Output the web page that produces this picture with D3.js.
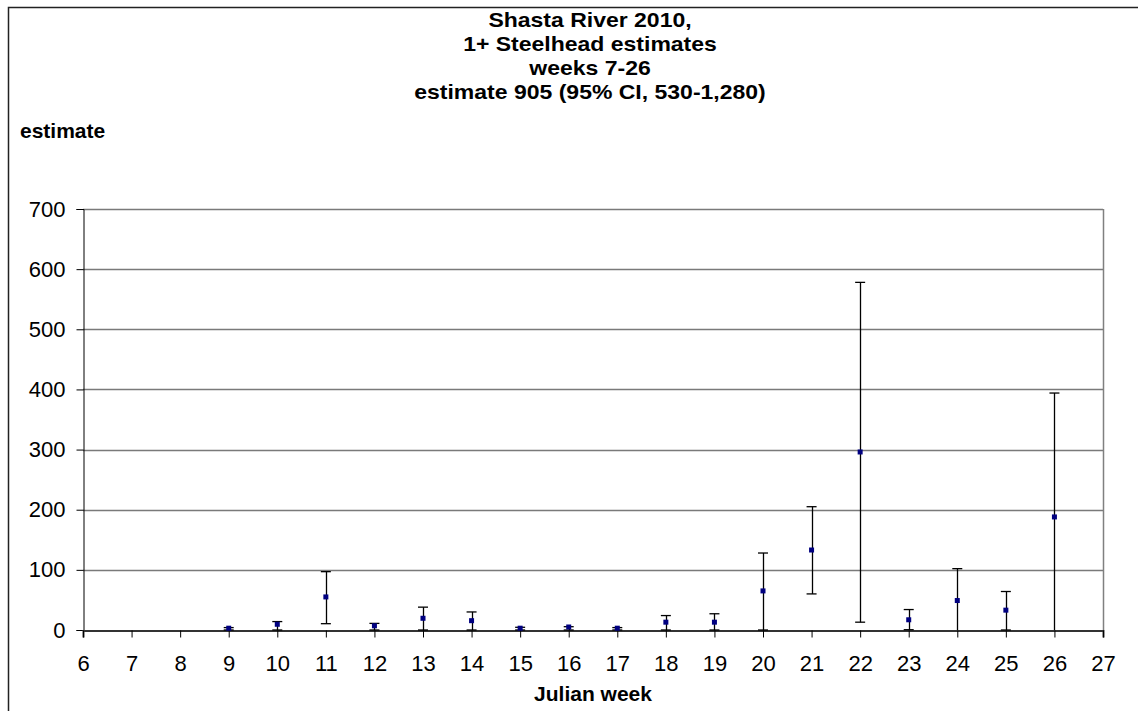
<!DOCTYPE html>
<html>
<head>
<meta charset="utf-8">
<script src="https://cdn.jsdelivr.net/npm/d3@7"></script>
<style>
  html, body { margin: 0; padding: 0; background: #fff; }
  svg { display: block; }
  text { font-family: "Liberation Sans", Arial, sans-serif; fill: #000; }
</style>
</head>
<body>
<svg id="chart" width="1138" height="711"></svg>
<script>
// ---- data ----
const titleLines = ["Shasta River 2010,", "1+ Steelhead estimates", "weeks 7-26", "estimate 905 (95% CI, 530-1,280)"];
const yTitle = "estimate";
const xTitle = "Julian week";
const weeks     = [9, 10, 11, 12, 13, 14, 15, 16, 17, 18, 19, 20, 21, 22, 23, 24, 25, 26];
const estimates = [3, 9.5, 55, 7, 19.5, 15.5, 3, 5, 3, 13, 13, 65, 133, 296, 17, 49, 33, 188];
const upperCI   = [4, 14, 97, 11, 38, 30, 4.5, 5.5, 4, 24, 27, 128, 205, 578, 34, 102, 64, 394];
const lowerCI   = [0, 0, 10.5, 0, 0, 0, 0, 0, 0, 0, 0, 0, 60, 13, 0.5, -20, 0, -20];
const xTicks = d3.range(6, 28);
const yTicks = [0, 100, 200, 300, 400, 500, 600, 700];

// ---- layout ----
const svg = d3.select("#chart");
const plot = { left: 83, right: 1103, top: 209, bottom: 630 };
const x = d3.scaleLinear().domain([6, 27]).range([plot.left, plot.right]);
const y = d3.scaleLinear().domain([0, 700]).range([plot.bottom, plot.top]);
const FONT = "Liberation Sans, Arial, sans-serif";

// outer chart border (top and left visible)
svg.append("path")
  .attr("d", `M8.5,711 L8.5,7.5 L1138,7.5`)
  .attr("fill", "none").attr("stroke", "#222").attr("stroke-width", 1.5);

// gridlines
svg.append("g").selectAll("line").data(yTicks.filter(d => d > 0)).join("line")
  .attr("x1", plot.left).attr("x2", plot.right)
  .attr("y1", d => Math.round(y(d)) + 0.5).attr("y2", d => Math.round(y(d)) + 0.5)
  .attr("stroke", "#7a7a7a").attr("stroke-width", 1.5);
// plot area right border
svg.append("line")
  .attr("x1", plot.right + 0.5).attr("x2", plot.right + 0.5)
  .attr("y1", plot.top).attr("y2", plot.bottom)
  .attr("stroke", "#808080").attr("stroke-width", 1.5);

// y axis
const yAxis = d3.axisLeft(y).tickValues(yTicks).tickSize(7).tickPadding(11).tickFormat(d3.format("d"));
const gy = svg.append("g").attr("transform", `translate(${plot.left + 0.5},0)`).call(yAxis);
gy.select(".domain").attr("stroke", "#000").attr("stroke-width", 1);
gy.selectAll(".tick line").attr("stroke", "#000");
gy.selectAll(".tick text").attr("font-size", 22).attr("font-family", FONT);

// x axis
const xAxis = d3.axisBottom(x).tickValues(xTicks).tickSize(7).tickPadding(18).tickFormat(d3.format("d"));
const gx = svg.append("g").attr("transform", `translate(0,${plot.bottom + 0.5})`).call(xAxis);
gx.select(".domain").attr("stroke", "#333").attr("stroke-width", 2);
gx.selectAll(".tick line").attr("stroke", "#000");
gx.selectAll(".tick text").attr("font-size", 22).attr("font-family", FONT);

// error bars
const rows = weeks.map((w, i) => ({ w, est: estimates[i], hi: upperCI[i], lo: lowerCI[i] }));
const eb = svg.append("g").attr("stroke", "#000").attr("stroke-width", 1.3);
eb.selectAll("line.v").data(rows).join("line").attr("class", "v")
  .attr("x1", d => Math.round(x(d.w)) + 0.5).attr("x2", d => Math.round(x(d.w)) + 0.5)
  .attr("y1", d => y(d.hi)).attr("y2", d => y(Math.max(0, d.lo)));
eb.selectAll("line.hi").data(rows).join("line").attr("class", "hi")
  .attr("x1", d => x(d.w) - 5).attr("x2", d => x(d.w) + 5)
  .attr("y1", d => y(d.hi)).attr("y2", d => y(d.hi));
eb.selectAll("line.lo").data(rows.filter(d => d.lo >= 0)).join("line").attr("class", "lo")
  .attr("x1", d => x(d.w) - 5).attr("x2", d => x(d.w) + 5)
  .attr("y1", d => y(d.lo)).attr("y2", d => y(d.lo));

// markers
svg.append("g").selectAll("rect").data(rows).join("rect")
  .attr("x", d => x(d.w) - 2.5).attr("y", d => y(d.est) - 2.5)
  .attr("width", 5).attr("height", 5).attr("fill", "#000080");

// title
const titleG = svg.append("g").attr("font-weight", "bold").attr("font-size", 20).attr("text-anchor", "middle");
titleG.selectAll("text").data(titleLines).join("text")
  .attr("transform", (d, i) => `translate(590,${27 + i * 24}) scale(1.15,1)`).text(d => d);

// axis titles
svg.append("text").attr("x", 20).attr("y", 138).attr("font-weight", "bold").attr("font-size", 21).text(yTitle);
svg.append("text").attr("x", x(16.5)).attr("y", 701).attr("text-anchor", "middle")
  .attr("font-weight", "bold").attr("font-size", 21).text(xTitle);
</script>
</body>
</html>
